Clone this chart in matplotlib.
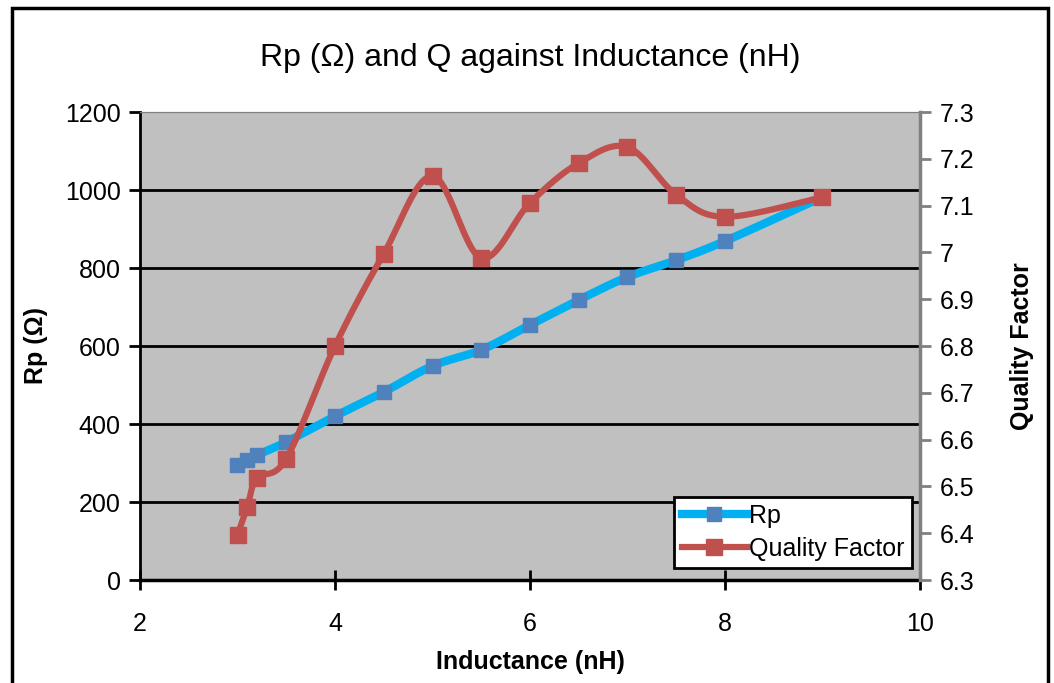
import numpy as np
import matplotlib.pyplot as plt
from matplotlib.patches import Rectangle
from matplotlib.lines import Line2D

plt.rcParams['font.family'] = ['Liberation Sans', 'DejaVu Sans']

# data
inductance = [3.0, 3.1, 3.2, 3.5, 4.0, 4.5, 5.0, 5.5, 6.0, 6.5, 7.0, 7.5, 8.0, 9.0]
rp = [295, 308, 320, 354, 420, 482, 549, 590, 654, 718, 777, 820, 869, 982]
quality = [6.396, 6.456, 6.518, 6.559, 6.800, 6.997, 7.163, 6.988, 7.106,
           7.191, 7.225, 7.123, 7.076, 7.118]

x_ticks = [2, 4, 6, 8, 10]
rp_ticks = [0, 200, 400, 600, 800, 1000, 1200]
q_ticks = [6.3, 6.4, 6.5, 6.6, 6.7, 6.8, 6.9, 7.0, 7.1, 7.2, 7.3]
q_labels = ['6.3', '6.4', '6.5', '6.6', '6.7', '6.8', '6.9', '7', '7.1', '7.2', '7.3']

RP_LINE = '#00B0F0'
RP_MARK = '#4F81BD'
Q_COL = '#C0504D'


def smooth(xs, ys, xr, yr, n=30):
    """Excel-style smoothed line: cubic bezier through points."""
    px = (np.asarray(xs, float)) / xr
    py = (np.asarray(ys, float)) / yr
    pts = np.column_stack([px, py])
    out = [pts[0]]
    for i in range(len(pts) - 1):
        p0 = pts[i - 1] if i > 0 else pts[i]
        p1 = pts[i]
        p2 = pts[i + 1]
        p3 = pts[i + 2] if i + 2 < len(pts) else pts[i + 1]
        c1 = p1 + (p2 - p0) / 6.0
        c2 = p2 - (p3 - p1) / 6.0
        t = np.linspace(0, 1, n)[1:, None]
        seg = ((1 - t) ** 3) * p1 + 3 * ((1 - t) ** 2) * t * c1 + 3 * (1 - t) * t ** 2 * c2 + t ** 3 * p2
        out.extend(seg)
    out = np.array(out)
    return out[:, 0] * xr, out[:, 1] * yr


fig = plt.figure(figsize=(10.54, 6.83), dpi=100)
W, H = 1054, 683
ax = fig.add_axes([140 / W, 1 - 580 / H, 780 / W, 468 / H])
ax2 = ax.twinx()

ax.set_facecolor('#C0C0C0')
ax.set_xlim(2, 10)
ax.set_ylim(0, 1200)
ax2.set_ylim(6.3, 7.3)

for v in rp_ticks[1:-1]:
    ax.axhline(v, color='black', lw=2, zorder=1)

sx, sy = smooth(inductance, rp, 8, 1200)
ax.plot(sx, sy, color=RP_LINE, lw=6, solid_capstyle='round', zorder=3)
ax.plot(inductance, rp, 's', color=RP_MARK, ms=10, zorder=4)

qx, qy = smooth(inductance, quality, 8, 1.0)
ax2.plot(qx, qy, color=Q_COL, lw=4.5, solid_capstyle='round', zorder=3)
ax2.plot(inductance, quality, 's', color=Q_COL, ms=12, zorder=4)

ax.set_xticks(x_ticks)
ax.set_yticks(rp_ticks)
ax2.set_yticks(q_ticks)
ax2.set_yticklabels(q_labels)

for s in ['top']:
    ax.spines[s].set_color('#808080')
    ax2.spines[s].set_color('#808080')
ax.spines['left'].set_linewidth(2)
ax.spines['bottom'].set_linewidth(2.5)
ax2.spines['right'].set_color('#808080')
ax2.spines['right'].set_linewidth(2.5)
ax.spines['right'].set_visible(False)
ax2.spines['left'].set_visible(False)
ax2.spines['bottom'].set_visible(False)

ax.tick_params(axis='x', direction='inout', length=14, width=2, labelsize=18, pad=16)
ax.tick_params(axis='y', direction='out', length=8, width=2, labelsize=18, pad=6)
ax2.tick_params(axis='y', direction='out', length=8, width=2, color='#808080',
                labelsize=18, pad=6)

ax.set_xlabel('Inductance (nH)', fontsize=18, fontweight='bold', labelpad=10)
ax.set_ylabel('Rp (Ω)', fontsize=18, fontweight='bold', labelpad=12)
ax2.set_ylabel('Quality Factor', fontsize=18, fontweight='bold', rotation=90, labelpad=26)

fig.text(530 / W, 1 - 58 / H, 'Rp (Ω) and Q against Inductance (nH)', fontsize=23,
         ha='center', va='center')

handles = [Line2D([], [], color=RP_LINE, lw=6, marker='s', ms=10, mfc=RP_MARK, mec=RP_MARK),
           Line2D([], [], color=Q_COL, lw=4.5, marker='s', ms=11, mfc=Q_COL, mec=Q_COL)]
leg = ax2.legend(handles, ['Rp', 'Quality Factor'], loc='lower right',
                 bbox_to_anchor=(0.99, 0.025), fontsize=18, frameon=True, fancybox=False,
                 handlelength=2.6, handletextpad=0.1, borderpad=0.3, labelspacing=0.35,
                 borderaxespad=0)
leg.get_frame().set_edgecolor('black')
leg.get_frame().set_linewidth(2)
leg.get_frame().set_facecolor('white')
leg.get_frame().set_alpha(1)

fig.patches.append(Rectangle((12 / W, -0.1), 1036 / W, 1.1 - 8 / H, transform=fig.transFigure,
                             fill=False, edgecolor='black', lw=2.5))

fig.savefig('out.png', dpi=100)
